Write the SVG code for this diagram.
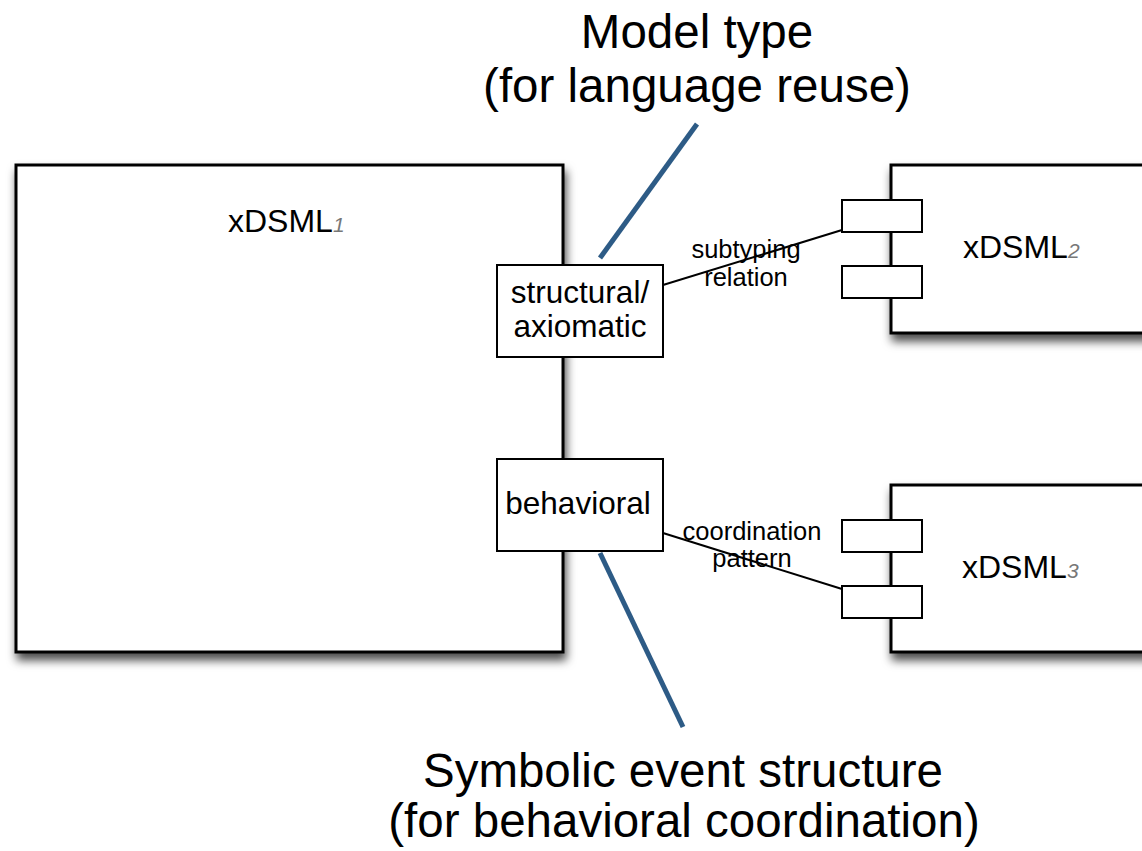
<svg xmlns="http://www.w3.org/2000/svg" width="1142" height="851" viewBox="0 0 1142 851">
<defs>
<filter id="shadow" x="-10%" y="-10%" width="130%" height="130%">
<feDropShadow dx="2" dy="7" stdDeviation="5" flood-color="#000" flood-opacity="0.7"/>
</filter>
<style>
text{font-family:"Liberation Sans",Arial,Helvetica,sans-serif;fill:#000;}
.big{font-size:47.5px;text-anchor:middle;}
.med{font-size:31.5px;text-anchor:middle;}
.small{font-size:25.5px;text-anchor:middle;}
.name{font-size:32px;}
.sub{font-size:21px;font-style:italic;fill:#777;}
.lang{fill:#fff;stroke:#000;stroke-width:3;filter:url(#shadow);}
.iface{fill:#fff;stroke:#000;stroke-width:2;}
.port{fill:#fff;stroke:#000;stroke-width:2;}
.conn{stroke:#000;stroke-width:2;fill:none;}
.callout{stroke:#2d5b86;stroke-width:5;fill:none;}
</style>
</defs>
<rect width="1142" height="851" fill="#fff"/>

<g id="xdsml1">
<rect class="lang" x="16" y="165" width="547" height="487"/>
<text class="name" x="228" y="232">xDSML<tspan class="sub">1</tspan></text>
</g>

<g id="xdsml2">
<rect class="lang" x="891" y="165" width="270" height="168"/>
<text class="name" x="963" y="258">xDSML<tspan class="sub">2</tspan></text>
<rect class="port" x="842" y="200" width="80" height="32"/>
<rect class="port" x="842" y="266" width="80" height="32"/>
</g>

<g id="xdsml3">
<rect class="lang" x="891" y="485" width="270" height="167"/>
<text class="name" x="962" y="578">xDSML<tspan class="sub">3</tspan></text>
<rect class="port" x="842" y="520" width="80" height="32"/>
<rect class="port" x="842" y="586" width="80" height="32"/>
</g>

<g id="structural">
<rect class="iface" x="497" y="265" width="166" height="92"/>
<text class="med" x="580" y="303">structural/</text>
<text class="med" x="580" y="337">axiomatic</text>
</g>

<g id="behavioral">
<rect class="iface" x="497" y="459" width="166" height="92"/>
<text class="med" x="578" y="514">behavioral</text>
</g>

<g id="label-model-type">
<text class="big" x="697" y="48">Model type</text>
<text class="big" x="697" y="102">(for language reuse)</text>
</g>

<g id="label-symbolic">
<text class="big" x="683" y="787">Symbolic event structure</text>
<text class="big" x="684" y="837">(for behavioral coordination)</text>
</g>

<g id="connectors">
<text class="small" x="746" y="258">subtyping</text>
<text class="small" x="746" y="286">relation</text>
<line class="conn" x1="663" y1="285" x2="842" y2="230"/>
<text class="small" x="752" y="540">coordination</text>
<text class="small" x="752" y="567">pattern</text>
<line class="conn" x1="663" y1="533" x2="842" y2="589"/>
<line class="callout" x1="697" y1="124" x2="600" y2="258"/>
<line class="callout" x1="600" y1="553" x2="683" y2="727"/>
</g>
</svg>
